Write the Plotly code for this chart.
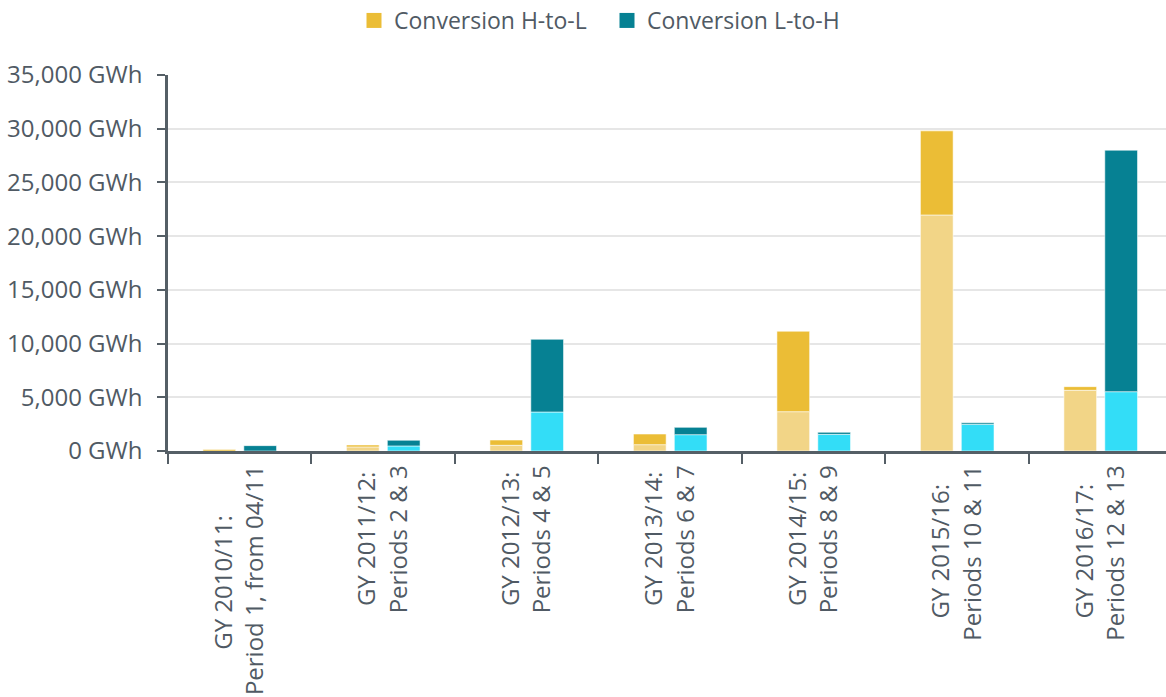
import plotly.graph_objects as go

label_line1 = ["GY 2010/11:", "GY 2011/12:", "GY 2012/13:", "GY 2013/14:",
               "GY 2014/15:", "GY 2015/16:", "GY 2016/17:"]
label_line2 = ["Period 1, from 04/11", "Periods 2 & 3", "Periods 4 & 5", "Periods 6 & 7",
               "Periods 8 & 9", "Periods 10 & 11", "Periods 12 & 13"]

# H-to-L: light (lower) part and dark (upper) part, GWh
h2l_light = [0, 380, 530, 590, 3660, 21970, 5650]
h2l_dark = [150, 180, 490, 990, 7490, 7830, 340]
# L-to-H: light (lower) part and dark (upper) part, GWh
l2h_light = [0, 470, 3630, 1520, 1550, 2490, 5520]
l2h_dark = [500, 530, 6770, 680, 190, 140, 22480]

legend_names = ["Conversion H-to-L", "Conversion L-to-H"]

# approximate Open Sans advance widths (em) used only to centre the two label lines
_W = {"G": .73, "Y": .55, "P": .6, " ": .26, "/": .37, ":": .27, ",": .25, "&": .73,
      "e": .56, "r": .41, "i": .26, "o": .6, "d": .61, "s": .48, "f": .34, "m": .93, "n": .61}


def _width(s):
    return sum(_W.get(c, .572) for c in s)


def centred(a, b):
    diff = _width(b) - _width(a)
    n = round(abs(diff) / 2 / 0.26)
    pad = "\u00a0" * n
    if diff > 0:
        a = a + pad
    else:
        b = b + pad
    return a + "<br>" + b


categories = [centred(a, b) for a, b in zip(label_line1, label_line2)]

C_H_DARK = "#EBBD36"
C_H_LIGHT = "#F2D587"
C_L_DARK = "#068193"
C_L_LIGHT = "#33DDF7"
TXT = "#505A64"
AX = "#555F66"
FONT = "Open Sans"

line = dict(width=1, color="rgba(255,255,255,0.55)")

fig = go.Figure()
fig.add_trace(go.Bar(x=categories, y=h2l_light, offsetgroup="H", marker=dict(color=C_H_LIGHT, line=line),
                     showlegend=False))
fig.add_trace(go.Bar(x=categories, y=h2l_dark, base=h2l_light, offsetgroup="H",
                     marker=dict(color=C_H_DARK, line=line), showlegend=False, name=legend_names[0]))
fig.add_trace(go.Bar(x=categories, y=l2h_light, offsetgroup="L", marker=dict(color=C_L_LIGHT, line=line),
                     showlegend=False))
fig.add_trace(go.Bar(x=categories, y=l2h_dark, base=l2h_light, offsetgroup="L",
                     marker=dict(color=C_L_DARK, line=line), showlegend=False, name=legend_names[1]))

# legend-only entries with larger square swatches
for nm, col in zip(legend_names, [C_H_DARK, C_L_DARK]):
    fig.add_trace(go.Scatter(x=[None], y=[None], mode="markers", name=nm,
                             marker=dict(symbol="square", size=15, color=col)))

fig.update_layout(
    width=1166, height=697,
    barmode="group", bargap=0.43, bargroupgap=0.2,
    plot_bgcolor="white", paper_bgcolor="white",
    margin=dict(l=168, r=0, t=75, b=246, autoexpand=False),
    font=dict(family=FONT, size=24, color=TXT),
    legend=dict(orientation="h", xref="container", yref="paper", x=0.3036, xanchor="left",
                y=1.145, yanchor="middle", font=dict(size=23, color=TXT), traceorder="normal",
                itemwidth=30, entrywidth=208, entrywidthmode="pixels"),
    xaxis=dict(
        type="category", range=[-0.5, 6.455], tickangle=-90, automargin=False,
        showline=True, linecolor=AX, linewidth=2.5,
        ticks="outside", tickson="boundaries", ticklen=10, tickwidth=2, tickcolor=AX,
        showgrid=False, tickfont=dict(size=24, color=TXT), ticklabelstandoff=2,
    ),
    yaxis=dict(
        range=[0, 35000], dtick=5000, tickformat=",d", ticksuffix=" GWh", automargin=False,
        showline=True, linecolor=AX, linewidth=2.5,
        ticks="outside", ticklen=8, tickwidth=2, tickcolor=AX,
        showgrid=True, gridcolor="#E6E6E6", gridwidth=1.5, zeroline=False,
        tickfont=dict(size=24, color=TXT), ticklabelstandoff=10,
    ),
)

fig.write_html("out.html", config={"displayModeBar": False},
               post_script="document.body.style.margin='0';")
